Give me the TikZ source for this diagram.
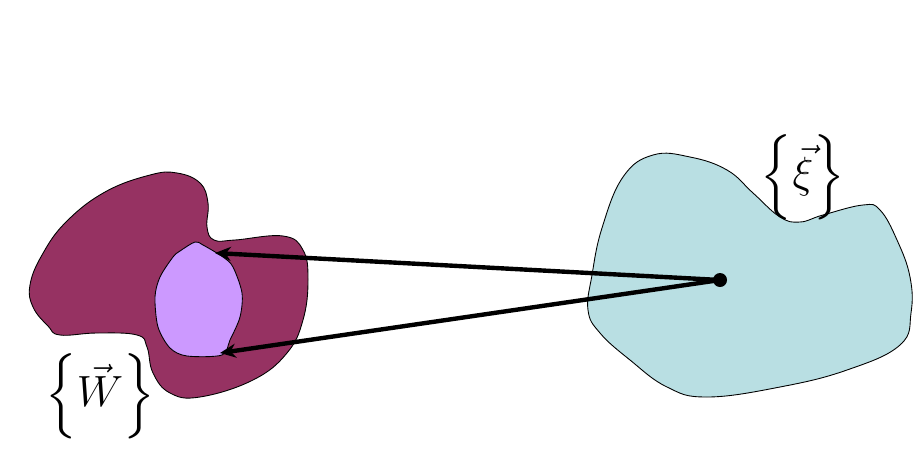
\documentclass[tikz,border=0pt]{standalone}
\usepackage{amsmath}
\usepackage{amssymb}
\usepackage{tikz}
\usetikzlibrary{arrows.meta}

\definecolor{plum}{RGB}{150,50,98}
\definecolor{lilac}{RGB}{204,153,255}
\definecolor{paleteal}{RGB}{185,223,227}

\begin{document}
\begin{tikzpicture}[x=0.02cm, y=-0.02cm]
			\tikzset{region/.style = {draw=black, line width=0.5pt},
			pointer/.style = {line width=2.5pt, -{Stealth[length=9pt, width=8pt]}},
			setlabel/.style = {inner sep=0pt, font=\fontsize{27}{30}\selectfont}}
			\useasboundingbox (0,0) rectangle (922,450);
			
			% outer set W
			\draw[region, fill=plum] plot[smooth cycle, tension=0.7] coordinates {
			(177,173) (200,183) (208,203) (207,227) (214,240) (235,240)
			(283,236) (303,250) (308,280) (303,320) (287,353) (253,380)
			(200,397) (170,393) (153,373) (147,347) (137,335) (97,333)
			(60,335) (48,326) (33,307) (30,285) (42,255) (66,222)
			(105,192) (150,175)};
			% image subset
			\draw[region, fill=lilac] plot[smooth cycle, tension=0.5] coordinates {
			(195,242) (180,251) (173,257) (160,277) (155,297) (158,327)
			(170,348) (187,356) (222,355) (230,340) (240,317) (242,293)
			(233,267) (223,257) (203,245)};
			% set xi
			\draw[region, fill=paleteal] plot[smooth cycle, tension=0.7] coordinates {
			(588,310) (592,275) (602,228) (623,177) (653,155) (690,157)
			(727,170) (753,193) (780,217) (800,222) (823,215) (863,205)
			(880,210) (897,240) (910,277) (911,313) (900,345) (847,370)
			(780,387) (707,397) (667,387) (630,360) (600,333)};
			
			\node[circle, fill=black, inner sep=0pt, minimum size=0.28cm] (xi_0) at (720,280) {};
			\coordinate (w_top) at (215,253);
			\coordinate (w_bot) at (220,353);
			
			\node[setlabel] (W_set) at (100,396) {$\left\{\vec{W}\vphantom{\Big|}\right\}$};
			\node[setlabel] (xi_set) at (803,177) {$\left\{\vec{\xi}\vphantom{\Big|}\right\}$};
			
			\draw[pointer] (xi_0.center) -- (w_top);
			\draw[pointer] (xi_0.center) -- (w_bot);
		\end{tikzpicture}
\end{document}
